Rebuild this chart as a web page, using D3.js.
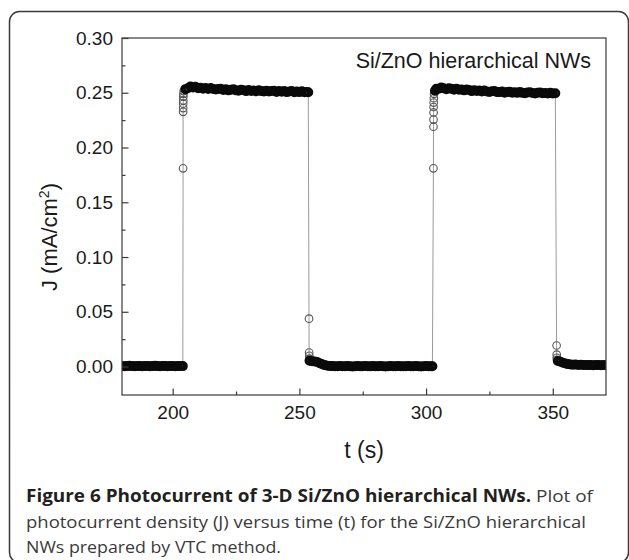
<!DOCTYPE html>
<html><head><meta charset="utf-8">
<script src="https://cdn.jsdelivr.net/npm/d3@7"></script>
<style>
html,body{margin:0;padding:0;background:#fff;}
svg{display:block;}
</style></head><body>
<svg id="chart" width="629" height="560"></svg>
<script>
// ---------------- data ----------------
const xTickMajor = [200, 250, 300, 350];
const xTickMinor = [225, 275, 325];
const yTickMajor = [0.00, 0.05, 0.10, 0.15, 0.20, 0.25, 0.30];
const yTickMinor = [0.025, 0.075, 0.125, 0.175, 0.225, 0.275];
const xDomain = [180, 371];
const yDomain = [-0.026, 0.30];

// light off
const off1T = [180,181,182,183,184,185,186,187,188,189,190,191,192,193,194,195,196,197,198,199,200,201,202,203,204];
const off1J = [0.0005,0.0003,0.0004,0.0006,0.0004,0.0003,0.0005,0.0004,0.0002,0.0004,0.0005,0.0003,0.0004,0.0006,0.0004,0.0003,0.0005,0.0004,0.0003,0.0005,0.0004,0.0002,0.0004,0.0005,0.0004];
// light on (rise)
const rise1T = [204.1,204.12,204.14,204.16,204.18,204.2,204.25,204.35];
const rise1J = [0.181,0.2326,0.236,0.240,0.243,0.2465,0.249,0.2515];
// light on plateau
const on1T = [205,206,207,208,209,210,211,212,213,214,215,216,217,218,219,220,221,222,223,224,225,226,227,228,229,230,231,232,233,234,235,236,237,238,239,240,241,242,243,244,245,246,247,248,249,250,251,252,253,253.5];
const on1J = [0.2533,0.2541,0.2557,0.2548,0.2554,0.2541,0.2545,0.2536,0.2544,0.2535,0.2544,0.2534,0.2529,0.2535,0.2536,0.2526,0.2532,0.2522,0.2528,0.2532,0.2522,0.2519,0.2527,0.2524,0.2515,0.2525,0.2517,0.2521,0.2514,0.2523,0.2515,0.2511,0.2519,0.2511,0.2516,0.2518,0.2507,0.2515,0.2510,0.2515,0.2506,0.2511,0.2516,0.2505,0.2512,0.2506,0.2513,0.2504,0.2508,0.2505];
// light off (fall)
const fall1T = [253.8,253.85,253.9,253.95];
const fall1J = [0.0437,0.0128,0.0098,0.0072];
const off2T = [254,255,256,257,258,259,260,261,262,263,264,265,266,267,268,269,270,271,272,273,274,275,276,277,278,279,280,281,282,283,284,285,286,287,288,289,290,291,292,293,294,295,296,297,298,299,300,301,302,302.5];
const off2J = [0.0052,0.0048,0.0047,0.0041,0.0031,0.0021,0.0013,0.0008,0.0005,
  0.0004,0.0002,0.0003,0.0005,0.0003,0.0002,0.0004,0.0003,0.0001,0.0003,
  0.0004,0.0002,0.0003,0.0005,0.0003,0.0002,0.0004,0.0003,0.0002,0.0004,
  0.0003,0.0001,0.0003,0.0004,0.0003,0.0002,0.0004,0.0003,0.0002,0.0003,
  0.0005,0.0003,0.0002,0.0004,0.0003,0.0001,0.0003,0.0004,0.0003,0.0002,0.0003];
const rise2T = [302.9,302.92,302.94,302.96,302.98,303.0,303.05,303.15];
const rise2J = [0.181,0.219,0.2255,0.232,0.237,0.241,0.245,0.249];
const on2T = [303.5,304,305,306,307,308,309,310,311,312,313,314,315,316,317,318,319,320,321,322,323,324,325,326,327,328,329,330,331,332,333,334,335,336,337,338,339,340,341,342,343,344,345,346,347,348,349,350,351];
const on2J = [0.2518,0.2536,0.2537,0.2548,0.2540,0.2533,0.2540,0.2537,0.2528,0.2537,0.2527,0.2529,0.2522,0.2529,0.2525,0.2515,0.2524,0.2516,0.2520,0.2511,0.2521,0.2512,0.2508,0.2514,0.2515,0.2506,0.2506,0.2511,0.2500,0.2507,0.2510,0.2500,0.2504,0.2499,0.2508,0.2499,0.2496,0.2503,0.2504,0.2498,0.2493,0.2500,0.2503,0.2495,0.2498,0.2493,0.2500,0.2494,0.2496];
const fall2T = [351.5,351.55,351.6,351.65];
const fall2J = [0.0192,0.0108,0.0080,0.0062];
const off3T = [352,353,354,355,356,357,358,359,360,361,362,363,364,365,366,367,368,369,370,371];
const off3J = [0.0050,0.0043,0.0035,0.0028,0.0022,0.0019,0.0017,0.0018,0.0015,0.0016,0.0014,0.0015,0.0013,0.0015,0.0012,0.0014,0.0013,0.0012,0.0014,0.0012];

const annotation = "Si/ZnO hierarchical NWs";
const xTitle = "t (s)";
const captionBold = "Figure 6 Photocurrent of 3-D Si/ZnO hierarchical NWs.";
const captionLine1Rest = " Plot of";
const captionLine2 = "photocurrent density (J) versus time (t) for the Si/ZnO hierarchical";
const captionLine3 = "NWs prepared by VTC method.";

// ---------------- drawing ----------------
const segments = [
  {t: off1T, j: off1J, band: true},
  {t: rise1T, j: rise1J, band: false},
  {t: on1T, j: on1J, band: true},
  {t: fall1T, j: fall1J, band: false},
  {t: off2T, j: off2J, band: true},
  {t: rise2T, j: rise2J, band: false},
  {t: on2T, j: on2J, band: true},
  {t: fall2T, j: fall2J, band: false},
  {t: off3T, j: off3J, band: true}
];
const points = [];
segments.forEach(s => s.t.forEach((t, i) => points.push({t, j: s.j[i], band: s.band})));

const svg = d3.select("#chart");
const L = 122, R = 606, T = 38, B = 395;
const x = d3.scaleLinear().domain(xDomain).range([L, R]);
const y = d3.scaleLinear().domain(yDomain).range([B, T]);

// outer rounded frame
svg.append("rect").attr("x", 9.5).attr("y", 11.5).attr("width", 619).attr("height", 551)
  .attr("rx", 10).attr("fill", "none").attr("stroke", "#3a3a3a").attr("stroke-width", 1.5);

svg.append("clipPath").attr("id", "plotclip").append("rect")
  .attr("x", L).attr("y", T).attr("width", R - L).attr("height", B - T);

const plot = svg.append("g").attr("clip-path", "url(#plotclip)");
plot.append("path").datum(points)
  .attr("d", d3.line().x(d => x(d.t)).y(d => y(d.j)))
  .attr("fill", "none").attr("stroke", "#9a9a9a").attr("stroke-width", 1);
plot.selectAll("circle").data(points).join("circle")
  .attr("cx", d => x(d.t)).attr("cy", d => y(d.j))
  .attr("r", d => d.band ? 3.6 : 3.8)
  .attr("fill", "none")
  .attr("stroke", d => d.band ? "#0a0a0a" : "#555")
  .attr("stroke-width", d => d.band ? 2.8 : 1.1);

const tickFont = "'Liberation Sans', Arial, sans-serif";
const axisColor = "#3a3a3a";

// axes
const gx = svg.append("g").attr("transform", `translate(0,${B})`)
  .call(d3.axisBottom(x).tickValues(xTickMajor).tickSize(-6.5).tickPadding(11).tickFormat(d3.format("d")));
const gxm = svg.append("g").attr("transform", `translate(0,${B})`)
  .call(d3.axisBottom(x).tickValues(xTickMinor).tickSize(-3.5).tickFormat(""));
const gy = svg.append("g").attr("transform", `translate(${L},0)`)
  .call(d3.axisLeft(y).tickValues(yTickMajor).tickSize(-6.5).tickPadding(9).tickFormat(d3.format(".2f")));
const gym = svg.append("g").attr("transform", `translate(${L},0)`)
  .call(d3.axisLeft(y).tickValues(yTickMinor).tickSize(-3.5).tickFormat(""));
[gx, gxm, gy, gym].forEach(g => {
  g.select(".domain").remove();
  g.selectAll("line").attr("stroke", axisColor).attr("stroke-width", 1.2);
  g.selectAll("text").attr("font-family", tickFont).attr("font-size", 19).attr("fill", "#1a1a1a");
});

// plot frame
svg.append("rect").attr("x", L).attr("y", T).attr("width", R - L).attr("height", B - T)
  .attr("fill", "none").attr("stroke", axisColor).attr("stroke-width", 1.2);

// annotation
svg.append("text").attr("x", 591).attr("y", 68).attr("text-anchor", "end")
  .attr("font-family", tickFont).attr("font-size", 21.5).attr("fill", "#1a1a1a").text(annotation);

// axis titles
svg.append("text").attr("x", (L + R) / 2).attr("y", 458).attr("text-anchor", "middle")
  .attr("font-family", tickFont).attr("font-size", 23).attr("fill", "#1a1a1a").text(xTitle);

const yt = svg.append("text").attr("transform", "translate(57,237) rotate(-90)")
  .attr("text-anchor", "middle").attr("font-family", tickFont).attr("font-size", 22).attr("fill", "#1a1a1a");
yt.append("tspan").text("J (mA/cm");
yt.append("tspan").attr("font-size", 14).attr("dy", -8).text("2");
yt.append("tspan").attr("dy", 8).text(")");

// caption
const capFont = "'Open Sans', 'Noto Sans', sans-serif";
const cap = svg.append("g").attr("font-family", capFont).attr("font-size", 17);
const l1 = cap.append("text").attr("x", 26).attr("y", 502).attr("textLength", 567).attr("lengthAdjust", "spacingAndGlyphs");
l1.append("tspan").attr("font-weight", "bold").attr("fill", "#231f20").text(captionBold);
l1.append("tspan").attr("fill", "#3a3a3a").text(captionLine1Rest);
cap.append("text").attr("x", 26).attr("y", 528).attr("fill", "#3a3a3a")
  .attr("textLength", 560).attr("lengthAdjust", "spacingAndGlyphs").text(captionLine2);
cap.append("text").attr("x", 26).attr("y", 553).attr("fill", "#3a3a3a")
  .attr("textLength", 255).attr("lengthAdjust", "spacingAndGlyphs").text(captionLine3);
</script>
</body></html>
